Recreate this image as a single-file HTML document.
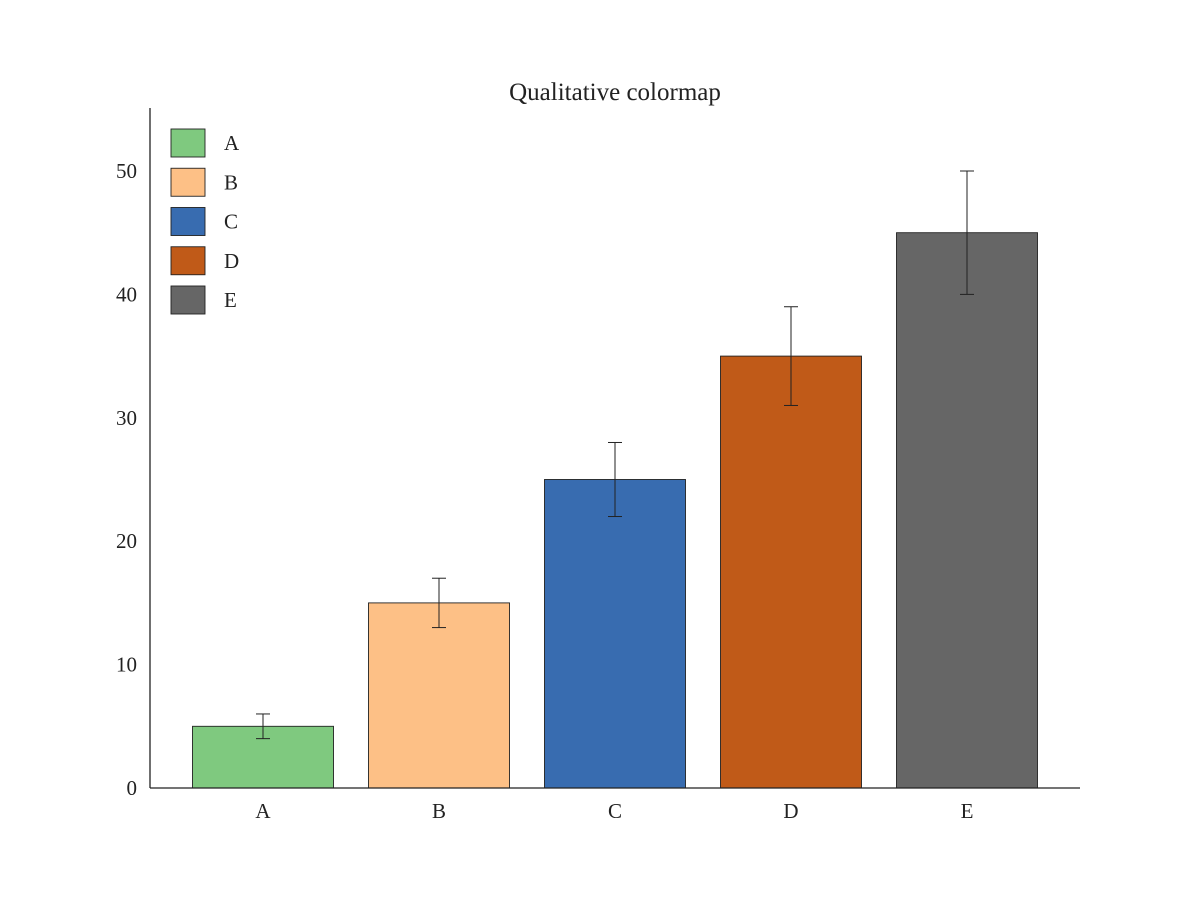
<!DOCTYPE html>
<html><head><meta charset="utf-8"><style>
body{margin:0;background:#fff}
svg{display:block;font-family:"Liberation Serif",serif;fill:#222}
</style></head><body>
<svg id="chart" width="1200" height="900" viewBox="0 0 1200 900" xmlns="http://www.w3.org/2000/svg">
<rect width="1200" height="900" fill="#fff"/>
<text x="615" y="100" font-size="25" text-anchor="middle" fill="#222">Qualitative colormap</text>
<g id="bars"></g><g id="errs"></g><g id="xt"></g><g id="yt"></g><g id="legend"></g>
<line x1="150" y1="108" x2="150" y2="788" stroke="#222" stroke-width="1.3"/>
<line x1="150" y1="788" x2="1080" y2="788" stroke="#222" stroke-width="1.3"/>
</svg>
<script>
const categories=["A","B","C","D","E"];
const values=[5,15,25,35,45];
const errors=[1,2,3,4,5];
const colors=["#7fc97f","#fdc086","#386cb0","#c05a18","#666666"];
const yTicks=[0,10,20,30,40,50];
const NS="http://www.w3.org/2000/svg";
const x=i=>263+i*176;
const y=v=>788-v*12.34;
function mk(tag,attrs,parent,txt){const e=document.createElementNS(NS,tag);for(const k in attrs)e.setAttribute(k,attrs[k]);if(txt!==undefined)e.textContent=txt;document.getElementById(parent).appendChild(e);return e;}
categories.forEach((c,i)=>{
 const b=mk('rect',{x:x(i)-70.5,y:y(values[i]),width:141,height:y(0)-y(values[i]),fill:colors[i],stroke:'#222','stroke-width':0.9},'bars');
 
 
 const g=mk('g',{stroke:'#222','stroke-width':1},'errs');
 
 
 const lo=y(values[i]-errors[i]),hi=y(values[i]+errors[i]);
 [[x(i),lo,x(i),hi],[x(i)-7,lo,x(i)+7,lo],[x(i)-7,hi,x(i)+7,hi]].forEach(p=>{const l=document.createElementNS(NS,'line');l.setAttribute('x1',p[0]);l.setAttribute('y1',p[1]);l.setAttribute('x2',p[2]);l.setAttribute('y2',p[3]);g.appendChild(l);});
 const t=mk('text',{x:x(i),y:818,'font-size':21,'text-anchor':'middle'},'xt',c);
 
 
 const ly=129+i*39.25;
 const p=mk('rect',{x:171,y:ly,width:34,height:28,fill:colors[i],stroke:'#222','stroke-width':0.9},'legend');
 
 
 const lt=mk('text',{x:224,y:ly+21,'font-size':21},'legend',c);
 
 
});
yTicks.forEach(v=>{
 const t=mk('text',{x:137,y:y(v)+7,'font-size':21,'text-anchor':'end'},'yt',String(v));
 
 
});
</script>
</body></html>
